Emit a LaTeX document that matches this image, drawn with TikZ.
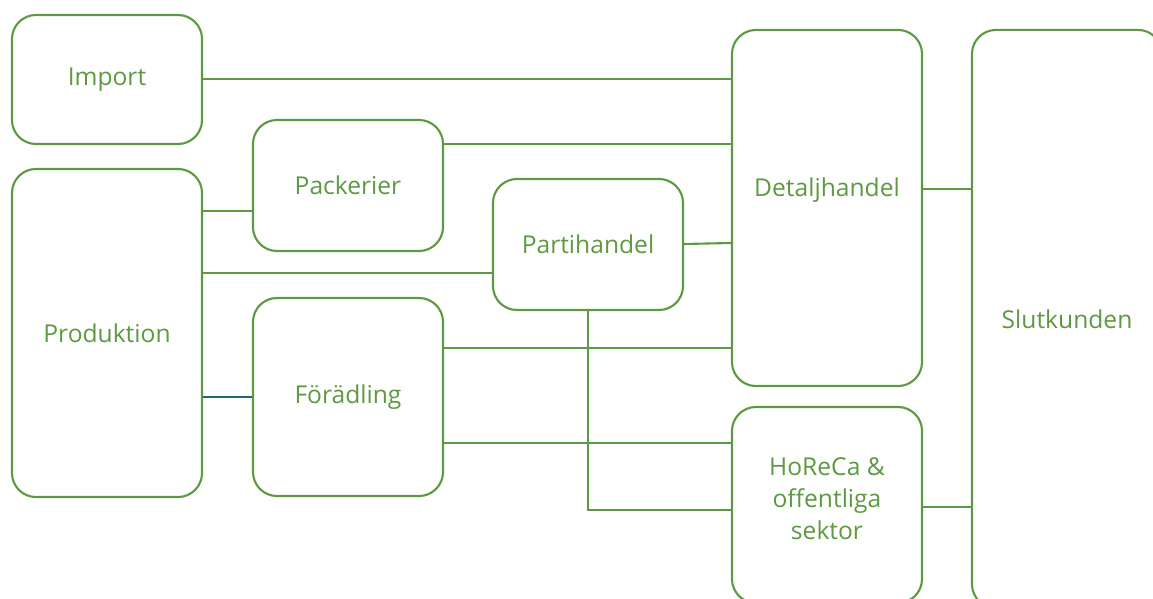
\documentclass[tikz,border=0pt]{standalone}
\usepackage{fontspec}
\setmainfont{Open Sans}
\usepackage{tikz}
\usetikzlibrary{positioning,calc}
\definecolor{leaf}{HTML}{5E9842}
\definecolor{petrol}{HTML}{1F6485}

\begin{document}
\begin{tikzpicture}[x=0.025cm, y=-0.025cm,
  box/.style={draw=leaf, line width=1.5pt, rounded corners=0.6cm, minimum width=4.75cm, align=center, text=leaf, font=\fontsize{17.5}{22.8}\selectfont, inner sep=0pt},
  tag/.style={text=leaf, align=center, font=\fontsize{17.5}{22.8}\selectfont},
  link/.style={draw=leaf, line width=1.5pt}
]
  \useasboundingbox (0,0) rectangle (1153,599);

  \node[box, minimum height=3.225cm] (imp) at (107,79.5) {Import};
  \node[box, minimum height=8.2cm] (prod) at (107,333) {Produktion};
  \node[box, minimum height=3.275cm] (pack) at (348,185.5) {Packerier};
  \node[box, minimum height=4.95cm] (foer) at (348,397) {Förädling};
  \node[box, minimum height=3.275cm] (parti) at (588,244.5) {Partihandel};
  \node[box, minimum height=8.9cm, label={[tag, yshift=0.45cm]center:Detaljhandel}] (det) at (827,208) {};
  \node[box, minimum height=4.9cm, label={[tag, yshift=0.15cm]center:HoReCa \&\\offentliga\\sektor}] (hor) at (827,505) {};
  \node[box, minimum height=14.45cm] (slut) at (1067,319) {Slutkunden};

  \draw[link] ($(imp.east)+(0,-0.5)$) coordinate (p0) -- (p0 -| det.west);
  \draw[link] ($(pack.east)+(0,-41.5)$) coordinate (p1) -- (p1 -| det.west);
  \draw[link] ($(pack.west)+(0,25.5)$) coordinate (p2) -- (p2 -| prod.east);
  \draw[link] ($(parti.west)+(0,28.5)$) coordinate (p3) -- (p3 -| prod.east);
  \draw[link] ($(parti.east)+(0,-0.5)$) -- ($(parti.east -| det.west)+(0,-1.5)$);
  \draw[link, draw=petrol] (foer.west) -- (foer.west -| prod.east);
  \draw[link] ($(foer.east)+(0,-49)$) coordinate (p4) -- (p4 -| det.west);
  \draw[link] ($(foer.east)+(0,46)$) coordinate (p5) -- (p5 -| hor.west);
  \draw[link] (parti.south) |- ($(hor.west)+(0,5)$);
  \draw[link] ($(det.east)+(0,-19)$) coordinate (p6) -- (p6 -| slut.west);
  \draw[link] ($(hor.east)+(0,2)$) coordinate (p7) -- (p7 -| slut.west);
\end{tikzpicture}
\end{document}
